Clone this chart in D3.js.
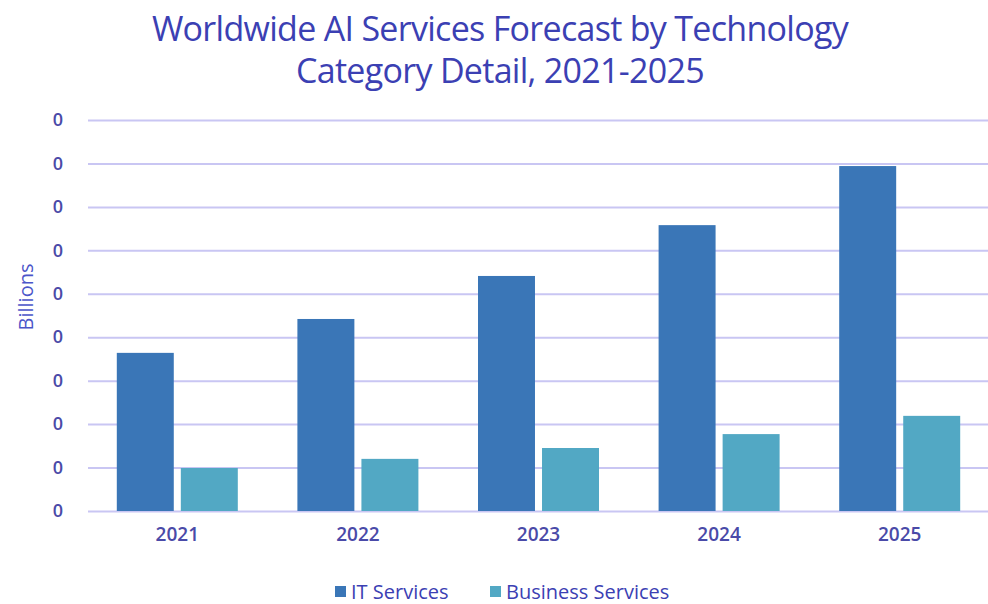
<!DOCTYPE html>
<html>
<head>
<meta charset="utf-8">
<script src="https://cdn.jsdelivr.net/npm/d3@7"></script>
<style>
  body { margin: 0; background: #fff; }
  svg { font-family: "Open Sans", sans-serif; }
</style>
</head>
<body>
<svg id="chart" width="988" height="604"></svg>
<script>
const years = ["2021", "2022", "2023", "2024", "2025"];
const seriesNames = ["IT Services", "Business Services"];
const itServices = [3.64, 4.42, 5.41, 6.58, 7.94];
const businessServices = [0.99, 1.2, 1.45, 1.77, 2.19];
const tickValues = [0, 1, 2, 3, 4, 5, 6, 7, 8, 9];
const tickLabels = ["0", "0", "0", "0", "0", "0", "0", "0", "0", "0"];

const svg = d3.select("#chart");
const colors = d3.scaleOrdinal().domain(seriesNames).range(["#3a76b7", "#52a8c4"]);
const textColor = "#3b40b3";

// scales
const y = d3.scaleLinear().domain([0, 9]).range([511, 120]);
const x0 = d3.scaleBand().domain(years).range([87, 990]).paddingInner(0.33).paddingOuter(0.165);
const x1 = d3.scaleBand().domain(seriesNames).range([0, x0.bandwidth()]).paddingInner(0.11);

// title
const title = svg.append("text")
    .attr("text-anchor", "middle")
    .attr("fill", textColor)
    .attr("font-size", 34)
    .attr("letter-spacing", -0.7);
title.append("tspan").attr("x", 500).attr("y", 41).text("Worldwide AI Services Forecast by Technology");
title.append("tspan").attr("x", 500).attr("y", 83).text("Category Detail, 2021-2025");

// gridlines + y labels
const yAxis = svg.append("g")
    .attr("transform", "translate(88,0)")
    .call(d3.axisLeft(y).tickValues(tickValues)
        .tickSize(-900)
        .tickPadding(25)
        .tickFormat((d, i) => tickLabels[i]));
yAxis.select(".domain").remove();
yAxis.selectAll("line").attr("stroke", "#c9c6f3").attr("stroke-width", 2);
yAxis.selectAll("text")
    .attr("fill", "#4a4aa8")
    .attr("font-size", 18)
    .attr("font-weight", 600)
    .attr("font-family", "Open Sans, sans-serif");

// y title
svg.append("text")
    .attr("transform", "translate(33,297) rotate(-90)")
    .attr("text-anchor", "middle")
    .attr("fill", "#4b55c9")
    .attr("font-size", 20)
    .text("Billions");

// bars
const rows = years.map((yr, i) => ({ year: yr, values: [itServices[i], businessServices[i]] }));
const groups = svg.append("g").selectAll("g")
    .data(rows)
    .join("g")
    .attr("transform", d => `translate(${x0(d.year)},0)`);

groups.selectAll("rect")
    .data(d => d.values.map((v, j) => ({ key: seriesNames[j], value: v })))
    .join("rect")
    .attr("x", d => x1(d.key))
    .attr("y", d => y(d.value))
    .attr("width", x1.bandwidth())
    .attr("height", d => y(0) - y(d.value))
    .attr("fill", d => colors(d.key));

// x labels
const xAxis = svg.append("g")
    .attr("transform", "translate(0,511)")
    .call(d3.axisBottom(x0).tickSize(0).tickPadding(17));
xAxis.select(".domain").remove();
xAxis.selectAll("text")
    .attr("fill", "#4a4aa8")
    .attr("font-size", 19)
    .attr("font-weight", 600)
    .attr("font-family", "Open Sans, sans-serif");

// legend
const legendX = [335, 490];
const legend = svg.append("g");
seriesNames.forEach((name, i) => {
    legend.append("rect")
        .attr("x", legendX[i])
        .attr("y", 586)
        .attr("width", 11)
        .attr("height", 11)
        .attr("fill", colors(name));
    legend.append("text")
        .attr("x", legendX[i] + 16)
        .attr("y", 599)
        .attr("fill", textColor)
        .attr("font-size", 20)
        .text(name);
});
</script>
</body>
</html>
